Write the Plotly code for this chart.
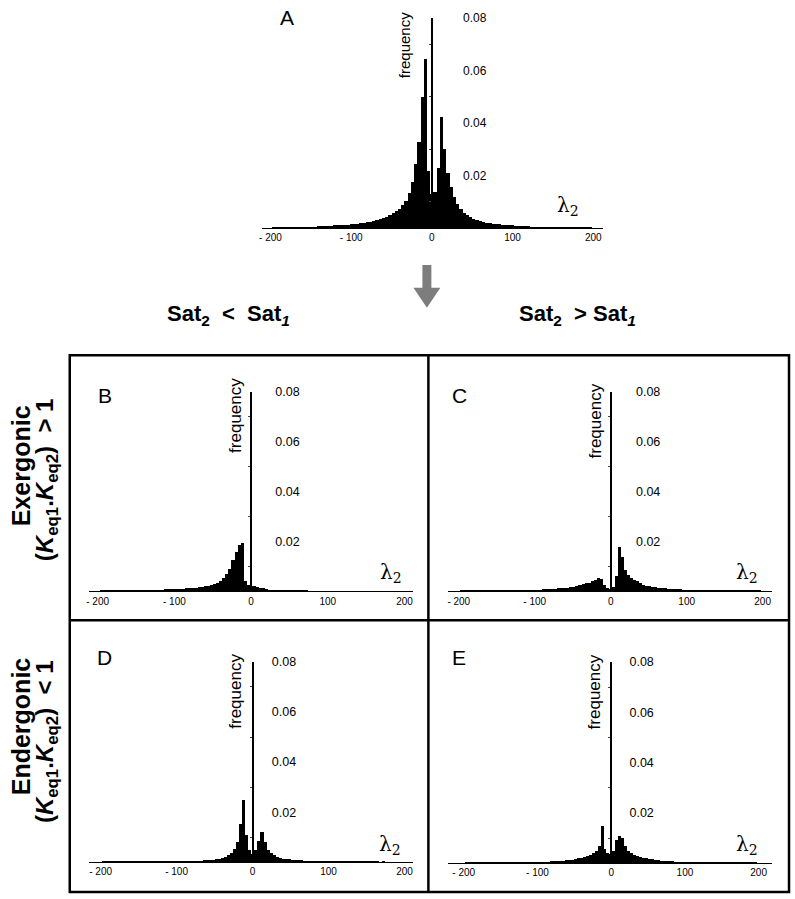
import plotly.graph_objects as go

W, H = 795, 899

# bin centres of the lambda2 histograms (width 4)
LAMBDA2_BINS = list(range(-196, 200, 4))

FREQ_A = [
    0.0003, 0.0004, 0.0003, 0.0004, 0.0004, 0.0005, 0.0004, 0.0005, 0.0005, 0.0006,
    0.0005, 0.0006, 0.0007, 0.0006, 0.0008, 0.0008, 0.0009, 0.0010, 0.0010, 0.0012,
    0.0011, 0.0013, 0.0014, 0.0014, 0.0016, 0.0017, 0.0018, 0.0020, 0.0021, 0.0023,
    0.0025, 0.0027, 0.0030, 0.0034, 0.0038, 0.0044, 0.0050, 0.0058, 0.0066, 0.0075,
    0.0088, 0.0105, 0.0135, 0.0176, 0.0245, 0.0330, 0.0500, 0.0645, 0.0220, 0.0130,
    0.0140, 0.0230, 0.0425, 0.0300, 0.0210, 0.0157, 0.0120, 0.0094, 0.0075, 0.0060,
    0.0050, 0.0042, 0.0035, 0.0030, 0.0027, 0.0024, 0.0022, 0.0020, 0.0018, 0.0017,
    0.0015, 0.0014, 0.0013, 0.0012, 0.0011, 0.0010, 0.0010, 0.0009, 0.0008, 0.0008,
    0.0007, 0.0007, 0.0006, 0.0006, 0.0006, 0.0005, 0.0005, 0.0005, 0.0004, 0.0004,
    0.0005, 0.0004, 0.0004, 0.0003, 0.0004, 0.0003, 0.0003, 0.0003, 0.0002,
]
FREQ_B = [
    0.0003, 0.0003, 0.0004, 0.0003, 0.0004, 0.0004, 0.0003, 0.0004, 0.0004, 0.0005,
    0.0004, 0.0005, 0.0005, 0.0005, 0.0006, 0.0005, 0.0006, 0.0006, 0.0007, 0.0007,
    0.0007, 0.0008, 0.0008, 0.0009, 0.0009, 0.0010, 0.0010, 0.0011, 0.0012, 0.0013,
    0.0014, 0.0015, 0.0016, 0.0018, 0.0020, 0.0022, 0.0025, 0.0029, 0.0034, 0.0040,
    0.0055, 0.0070, 0.0090, 0.0125, 0.0160, 0.0185, 0.0195, 0.0040, 0.0025, 0.0022,
    0.0020, 0.0018, 0.0015, 0.0012, 0.0009, 0.0007, 0.0006, 0.0005, 0.0004, 0.0004,
    0.0003, 0.0003, 0.0003, 0.0002, 0.0002, 0.0002, 0.0002, 0.0002, 0.0001, 0.0001,
    0.0001, 0.0001, 0.0001, 0.0001, 0.0001, 0.0001, 0.0001, 0.0001, 0.0001, 0.0001,
    0.0001, 0.0001, 0.0001, 0.0001, 0.0001, 0.0001, 0.0001, 0.0001, 0.0001, 0.0001,
    0.0001, 0.0001, 0.0001, 0.0001, 0.0001, 0.0001, 0.0001, 0.0001, 0.0001,
]
FREQ_C = [
    0.0002, 0.0003, 0.0002, 0.0003, 0.0003, 0.0002, 0.0003, 0.0003, 0.0003, 0.0003,
    0.0003, 0.0003, 0.0004, 0.0003, 0.0004, 0.0004, 0.0004, 0.0005, 0.0004, 0.0005,
    0.0005, 0.0005, 0.0006, 0.0006, 0.0006, 0.0007, 0.0007, 0.0008, 0.0008, 0.0009,
    0.0010, 0.0011, 0.0012, 0.0013, 0.0014, 0.0015, 0.0017, 0.0019, 0.0021, 0.0024,
    0.0028, 0.0032, 0.0035, 0.0040, 0.0045, 0.0052, 0.0050, 0.0025, 0.0013, 0.0010,
    0.0018, 0.0062, 0.0177, 0.0137, 0.0085, 0.0065, 0.0052, 0.0045, 0.0040, 0.0032,
    0.0027, 0.0023, 0.0020, 0.0018, 0.0016, 0.0014, 0.0013, 0.0012, 0.0011, 0.0010,
    0.0009, 0.0008, 0.0008, 0.0007, 0.0007, 0.0006, 0.0006, 0.0005, 0.0005, 0.0005,
    0.0004, 0.0004, 0.0004, 0.0004, 0.0003, 0.0003, 0.0003, 0.0003, 0.0003, 0.0003,
    0.0003, 0.0002, 0.0003, 0.0002, 0.0002, 0.0002, 0.0002, 0.0002, 0.0002,
]
FREQ_D = [
    0.0002, 0.0002, 0.0002, 0.0002, 0.0002, 0.0002, 0.0002, 0.0002, 0.0002, 0.0002,
    0.0002, 0.0002, 0.0002, 0.0003, 0.0002, 0.0003, 0.0003, 0.0003, 0.0003, 0.0003,
    0.0003, 0.0003, 0.0004, 0.0004, 0.0004, 0.0004, 0.0005, 0.0005, 0.0005, 0.0006,
    0.0006, 0.0007, 0.0007, 0.0008, 0.0009, 0.0010, 0.0011, 0.0013, 0.0015, 0.0018,
    0.0022, 0.0028, 0.0036, 0.0055, 0.0080, 0.0155, 0.0250, 0.0110, 0.0050, 0.0035,
    0.0050, 0.0085, 0.0122, 0.0080, 0.0050, 0.0036, 0.0028, 0.0022, 0.0018, 0.0015,
    0.0013, 0.0012, 0.0011, 0.0010, 0.0009, 0.0008, 0.0007, 0.0007, 0.0006, 0.0006,
    0.0005, 0.0005, 0.0005, 0.0004, 0.0004, 0.0004, 0.0003, 0.0003, 0.0003, 0.0003,
    0.0003, 0.0002, 0.0002, 0.0002, 0.0002, 0.0002, 0.0002, 0.0002, 0.0002, 0.0002,
    0.0002, 0.0001, 0.0002, 0.0001, 0.0001, 0.0001, 0.0001, 0.0001, 0.0001,
]
FREQ_E = [
    0.0002, 0.0002, 0.0002, 0.0002, 0.0002, 0.0002, 0.0002, 0.0002, 0.0002, 0.0002,
    0.0002, 0.0002, 0.0003, 0.0003, 0.0003, 0.0003, 0.0003, 0.0003, 0.0004, 0.0004,
    0.0004, 0.0004, 0.0005, 0.0005, 0.0005, 0.0006, 0.0006, 0.0007, 0.0007, 0.0008,
    0.0008, 0.0009, 0.0010, 0.0011, 0.0012, 0.0013, 0.0015, 0.0017, 0.0020, 0.0023,
    0.0026, 0.0030, 0.0035, 0.0040, 0.0050, 0.0070, 0.0148, 0.0058, 0.0040, 0.0038,
    0.0050, 0.0095, 0.0110, 0.0100, 0.0070, 0.0050, 0.0042, 0.0035, 0.0030, 0.0026,
    0.0023, 0.0020, 0.0018, 0.0016, 0.0014, 0.0012, 0.0011, 0.0010, 0.0009, 0.0009,
    0.0008, 0.0007, 0.0007, 0.0006, 0.0006, 0.0005, 0.0005, 0.0005, 0.0004, 0.0004,
    0.0004, 0.0003, 0.0003, 0.0003, 0.0003, 0.0003, 0.0003, 0.0002, 0.0002, 0.0002,
    0.0002, 0.0002, 0.0002, 0.0002, 0.0002, 0.0002, 0.0002, 0.0002, 0.0002,
]

X_TICKS = [-200, -100, 0, 100, 200]
X_TICK_LABELS = ["- 200", "- 100", "0", "100", "200"]
Y_TICKS = [0.02, 0.04, 0.06, 0.08]
Y_TICK_LABELS = ["0.02", "0.04", "0.06", "0.08"]
PANEL_LABELS = ["A", "B", "C", "D", "E"]
COL_HEADERS = ["<b>Sat<sub>2</sub>  &lt;  Sat<sub><i>1</i></sub></b>",
               "<b>Sat<sub>2</sub>  &gt; Sat<sub><i>1</i></sub></b>"]
ROW_TITLES = ["<b>Exergonic</b>", "<b>Endergonic</b>"]
ROW_SUBTITLES = ["<b>(<i>K</i><sub>eq1</sub>.<i>K</i><sub>eq2</sub>)  &gt; 1</b>",
                 "<b>(<i>K</i><sub>eq1</sub>.<i>K</i><sub>eq2</sub>)  &lt; 1</b>"]

FONT = "Liberation Sans, Arial, Helvetica, sans-serif"


def px(x):
    return x / W


def py(y):
    return 1 - y / H


# layout geometry in pixels (axis line ends, zero position, px per unit, baseline, top)
panels = [
    dict(freq=FREQ_A, x0=260, x1=602, zero=430.5, scale=0.81, base=223, top=11, gap=28,
         xfs=10, yfs=12, ffs=15, flab=(403, 38), lab=(285, 11), lam=(567, 201)),
    dict(freq=FREQ_B, x0=86, x1=412, zero=249, scale=0.77, base=589, top=388, gap=21,
         xfs=10, yfs=12.5, ffs=17, flab=(234, 412), lab=(102, 392), lam=(389, 570)),
    dict(freq=FREQ_C, x0=447, x1=772, zero=610, scale=0.7625, base=589, top=388, gap=22,
         xfs=10, yfs=12.5, ffs=17, flab=(595, 417), lab=(458, 392), lam=(747, 570)),
    dict(freq=FREQ_D, x0=86, x1=412, zero=250.5, scale=0.7625, base=862, top=660, gap=16,
         xfs=10, yfs=12.5, ffs=17, flab=(234, 690), lab=(102, 656), lam=(388, 845)),
    dict(freq=FREQ_E, x0=447, x1=772, zero=610.5, scale=0.74, base=863, top=660, gap=15,
         xfs=10, yfs=12.5, ffs=17, flab=(594, 690), lab=(458, 656), lam=(747, 845)),
]

fig = go.Figure()
annotations = []
layout_axes = {}

for i, p in enumerate(panels, start=1):
    sfx = "" if i == 1 else str(i)
    fig.add_trace(go.Bar(
        x=LAMBDA2_BINS, y=p["freq"], width=4,
        marker=dict(color="black", line=dict(width=0)),
        xaxis="x" + sfx, yaxis="y" + sfx, showlegend=False, hoverinfo="x+y",
    ))
    xr = [(p["x0"] - p["zero"]) / p["scale"], (p["x1"] - p["zero"]) / p["scale"]]
    layout_axes["xaxis" + sfx] = dict(
        domain=[px(p["x0"]), px(p["x1"])], range=xr, anchor="y" + sfx,
        showline=True, linecolor="black", linewidth=1.3, showgrid=False, zeroline=False,
        tickmode="array", tickvals=X_TICKS, ticktext=X_TICK_LABELS, ticks="",
        tickfont=dict(family=FONT, size=p["xfs"], color="black"), fixedrange=True,
    )
    layout_axes["yaxis" + sfx] = dict(
        domain=[py(p["base"]), py(p["top"])], range=[0, 0.08], anchor="free",
        position=px(p["zero"]), side="right",
        showline=True, linecolor="black", linewidth=1.6, showgrid=False, zeroline=False,
        tickmode="array", tickvals=Y_TICKS, ticktext=Y_TICK_LABELS, ticks="",
        ticklabelstandoff=p["gap"],
        tickfont=dict(family=FONT, size=p["yfs"], color="black"), fixedrange=True,
        minor=dict(tickmode="array", tickvals=[0.01, 0.03, 0.05, 0.07], ticks="inside",
                   ticklen=2, tickcolor="#444", tickwidth=1),
    )
    annotations.append(dict(
        text=PANEL_LABELS[i - 1], x=px(p["lab"][0]), y=py(p["lab"][1]), xref="paper",
        yref="paper", showarrow=False, xanchor="center", yanchor="middle",
        font=dict(family=FONT, size=21, color="black")))
    annotations.append(dict(
        text="frequency", x=px(p["flab"][0]), y=py(p["flab"][1]), xref="paper",
        yref="paper", showarrow=False, textangle=-90, xanchor="center", yanchor="middle",
        font=dict(family=FONT, size=p["ffs"], color="black")))
    annotations.append(dict(
        text="λ<sub>2</sub>", x=px(p["lam"][0]), y=py(p["lam"][1]), xref="paper",
        yref="paper", showarrow=False, xanchor="center", yanchor="middle",
        font=dict(family="DejaVu Serif, serif", size=20, color="black")))

# column headers
for txt, cx in zip(COL_HEADERS, [226, 577]):
    annotations.append(dict(
        text=txt, x=px(cx), y=py(310), xref="paper", yref="paper", showarrow=False,
        xanchor="center", yanchor="middle", font=dict(family=FONT, size=22, color="black")))

# row titles
for t, s, (ty, sy) in zip(ROW_TITLES, ROW_SUBTITLES, [(462, 476), (725, 740)]):
    annotations.append(dict(
        text=t, x=px(18), y=py(ty), xref="paper", yref="paper", showarrow=False,
        textangle=-90, xanchor="center", yanchor="middle",
        font=dict(family=FONT, size=25, color="black")))
    annotations.append(dict(
        text=s, x=px(43), y=py(sy), xref="paper", yref="paper", showarrow=False,
        textangle=-90, xanchor="center", yanchor="middle",
        font=dict(family=FONT, size=24, color="black")))

# frame lines and arrow
shapes = []
shapes.append(dict(type="rect", xref="paper", yref="paper", x0=px(67), x1=px(789),
                   y0=py(892), y1=py(351), line=dict(color="black", width=2.5)))
shapes.append(dict(type="line", xref="paper", yref="paper", x0=px(427), x1=px(427),
                   y0=py(892), y1=py(351), line=dict(color="black", width=2.5)))
shapes.append(dict(type="line", xref="paper", yref="paper", x0=px(67), x1=px(789),
                   y0=py(618), y1=py(618), line=dict(color="black", width=2.5)))
arrow_pts = [(421, 260), (430, 260), (430, 283), (439, 283), (425.5, 303), (412, 283), (421, 283)]
path = "M " + " L ".join(f"{px(x):.5f},{py(y):.5f}" for x, y in arrow_pts) + " Z"
shapes.append(dict(type="path", xref="paper", yref="paper", path=path,
                   fillcolor="#7d7d7d", line=dict(width=0)))

fig.update_layout(
    width=W, height=H, autosize=False,
    margin=dict(l=0, r=0, t=0, b=0),
    paper_bgcolor="white", plot_bgcolor="rgba(0,0,0,0)",
    showlegend=False, bargap=0,
    annotations=annotations, shapes=shapes,
    **layout_axes,
)

fig.write_html(
    "out.html",
    config={"displayModeBar": False},
    post_script="document.body.style.margin='0';document.body.style.overflow='hidden';",
)
